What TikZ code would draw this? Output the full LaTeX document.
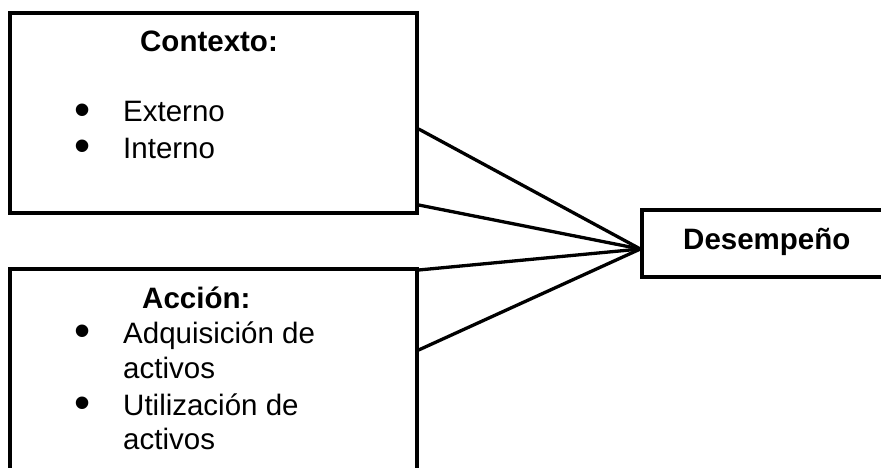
\documentclass[tikz,border=0pt]{standalone}
\usepackage{fontspec}
\setmainfont{Liberation Sans}
\begin{document}
\begin{tikzpicture}[x=1pt,y=1pt,
  box/.style={draw=black,line width=3.3pt,rectangle,inner sep=0pt},
  conn/.style={draw=black,line width=3.3pt},
  txt/.style={anchor=base west,inner sep=0pt,font=\fontsize{29.5}{36}\selectfont},
  bold/.style={txt,font=\fontsize{29.5}{36}\selectfont\bfseries},
  bul/.style={anchor=center,inner sep=0pt,font=\fontsize{46}{56}\selectfont}]
\useasboundingbox (0,0) rectangle (881,467);
\clip (0,0) rectangle (881,467);
% boxes
\node[box,minimum width=407pt,minimum height=200pt] (ctx) at (213.5,354) {};
\node[box,minimum width=407pt,minimum height=260pt] (act) at (213.5,68) {};
\node[box,minimum width=278pt,minimum height=67pt] (des) at (781,223.5) {};
% connector points
\coordinate (c1) at (ctx.east |- 0,338);
\coordinate (c2) at (ctx.east |- 0,262);
\coordinate (a1) at (act.east |- 0,197);
\coordinate (a2) at (act.east |- 0,117);
\coordinate (d) at (des.west |- 0,218);
\draw[conn] (c1) -- (d);
\draw[conn] (c2) -- (d);
\draw[conn] (a1) -- (d);
\draw[conn] (a2) -- (d);
% texts
\node[bold,anchor=base] (tctx) at (209,415) {Contexto:};
\node[bul] (b1) at (82.5,352) {•};
\node[txt] (t1) at (123,345) {Externo};
\node[bul] (b2) at (82.5,316) {•};
\node[txt] (t2) at (123,309) {Interno};
\node[bold] (tact) at (142,159) {Acción:};
\node[bul] (b3) at (82.5,131) {•};
\node[txt] (t3) at (123,124) {Adquisición de};
\node[txt] (t4) at (123,89) {activos};
\node[bul] (b4) at (82.5,59) {•};
\node[txt] (t5) at (123,52) {Utilización de};
\node[txt] (t6) at (123,18) {activos};
\node[bold] (tdes) at (683,218) {Desempeño};
\end{tikzpicture}
\end{document}
